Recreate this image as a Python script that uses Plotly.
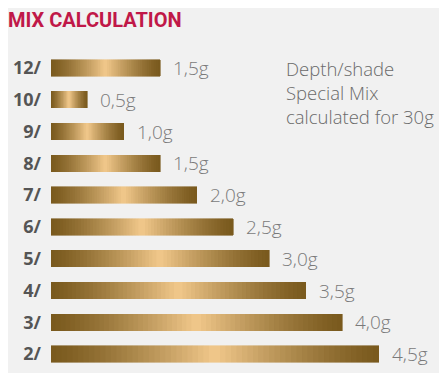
import plotly.graph_objects as go
import numpy as np

categories = ["12/", "10/", "9/", "8/", "7/", "6/", "5/", "4/", "3/", "2/"]
values = [1.5, 0.5, 1.0, 1.5, 2.0, 2.5, 3.0, 3.5, 4.0, 4.5]
value_labels = ["1,5g", "0,5g", "1,0g", "1,5g", "2,0g", "2,5g", "3,0g", "3,5g", "4,0g", "4,5g"]
title_text = "MIX CALCULATION"
note_lines = ["Depth/shade", "Special Mix", "calculated for 30g"]

dark = np.array([0x7a, 0x5a, 0x1e])
light = np.array([0xf2, 0xc9, 0x8c])

# page body has an 8px offset; the figure is shrunk to compensate
OFF = 8
W, H = 447 - OFF, 373 - OFF
L, T = 51 - OFF, 52 - OFF
PW, PH = W - L, H - T - 3

N = 60
fig = go.Figure()
vals = np.array(values)
for i in range(N):
    t = (i + 0.5) / N
    d = abs(t - 0.5) * 2
    w = 1 - d
    c = dark + (light - dark) * (w ** 1.3)
    col = "rgb(%d,%d,%d)" % tuple(c.astype(int))
    fig.add_trace(go.Bar(
        y=categories, x=vals / N, orientation="h",
        marker=dict(color=col, line=dict(color=col, width=0.6)),
        width=0.52, hoverinfo="skip", showlegend=False,
    ))

for cat, v, lab in zip(categories, values, value_labels):
    fig.add_annotation(x=v, y=cat, text=lab, xanchor="left", yanchor="middle",
                       xshift=11, showarrow=False,
                       font=dict(family="Open Sans", size=19, color="#7a7a7a", weight=300))

fig.add_annotation(xref="paper", yref="paper", x=(284 - 51) / PW,
                   y=1 - (92 - 52) / PH,
                   xanchor="left", yanchor="middle", align="left", showarrow=False,
                   text="<br>".join(note_lines),
                   font=dict(family="Open Sans", size=18.5, color="#6a6a6a", weight=300))

fig.update_layout(
    width=W, height=H,
    margin=dict(l=L, r=0, t=T, b=3),
    paper_bgcolor="#f1f1f1", plot_bgcolor="#f1f1f1",
    barmode="stack", bargap=0.48,
    title=dict(text=title_text, x=0, xanchor="left", xref="container",
               y=1 - (19.5 - OFF) / H, yanchor="middle", yref="container", pad=dict(l=0),
               font=dict(family="Roboto", size=20, color="#c01848", weight=700)),
    xaxis=dict(range=[0, PW / 72.8], visible=False, fixedrange=True),
    yaxis=dict(categoryorder="array", categoryarray=categories, autorange="reversed",
               showgrid=False, zeroline=False, showline=False, ticks="",
               ticklabelstandoff=9, automargin=False,
               tickfont=dict(family="Open Sans", size=18, color="#555555", weight=700)),
)

fig.write_html("out.html")
